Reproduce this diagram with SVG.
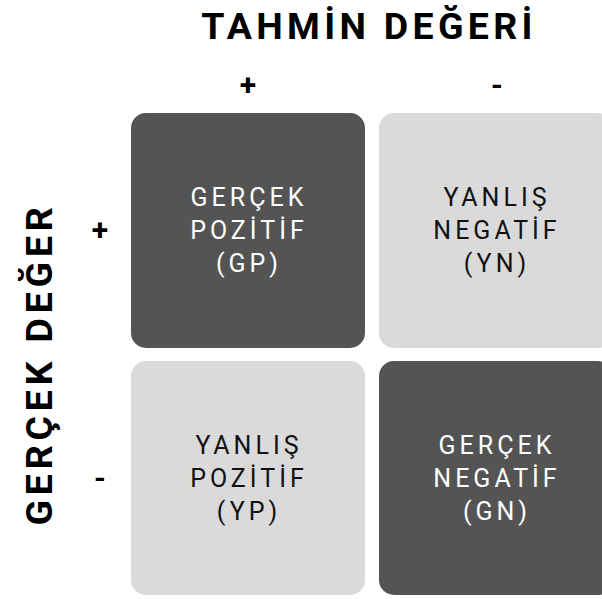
<svg xmlns="http://www.w3.org/2000/svg" width="602" height="599" viewBox="0 0 602 599">
<style>
.title{font-family:Roboto,"Liberation Sans",sans-serif;font-weight:700;font-size:37.5px;letter-spacing:4.3px;fill:#000;text-anchor:middle}
.vt{letter-spacing:4.8px}
.sign{font-family:Roboto,"Liberation Sans",sans-serif;font-weight:700;font-size:30px;fill:#000;text-anchor:middle}
.dark{fill:#545454}
.light{fill:#dadada}
.lbl{font-family:Roboto,"Liberation Sans",sans-serif;font-size:25px;letter-spacing:4px;text-anchor:middle}
.lw{fill:#ffffff}
.lb{fill:#111111}
</style>
<rect width="602" height="599" fill="#ffffff"/>
<text class="title" x="369" y="39">TAHMİN DEĞERİ</text>
<text class="title vt" transform="translate(52,364) rotate(-90)" x="0" y="0">GERÇEK DEĞER</text>
<text class="sign" x="248" y="95">+</text>
<text class="sign" x="497" y="95">-</text>
<text class="sign" x="100" y="240">+</text>
<text class="sign" x="100" y="488">-</text>
<g id="gp">
<rect class="dark" x="131" y="113" width="234" height="235" rx="15"/>
<text class="lbl lw" x="249" y="206">GERÇEK</text>
<text class="lbl lw" x="249" y="239">POZİTİF</text>
<text class="lbl lw" x="249" y="272">(GP)</text>
</g>
<g id="yn">
<rect class="light" x="379" y="113" width="234" height="235" rx="15"/>
<text class="lbl lb" x="497" y="206">YANLIŞ</text>
<text class="lbl lb" x="497" y="239">NEGATİF</text>
<text class="lbl lb" x="497" y="272">(YN)</text>
</g>
<g id="yp">
<rect class="light" x="131" y="361" width="234" height="234" rx="15"/>
<text class="lbl lb" x="249" y="454">YANLIŞ</text>
<text class="lbl lb" x="249" y="487">POZİTİF</text>
<text class="lbl lb" x="249" y="520">(YP)</text>
</g>
<g id="gn">
<rect class="dark" x="379" y="361" width="234" height="234" rx="15"/>
<text class="lbl lw" x="497" y="454">GERÇEK</text>
<text class="lbl lw" x="497" y="487">NEGATİF</text>
<text class="lbl lw" x="497" y="520">(GN)</text>
</g>
<g id="connectors"></g>
</svg>
